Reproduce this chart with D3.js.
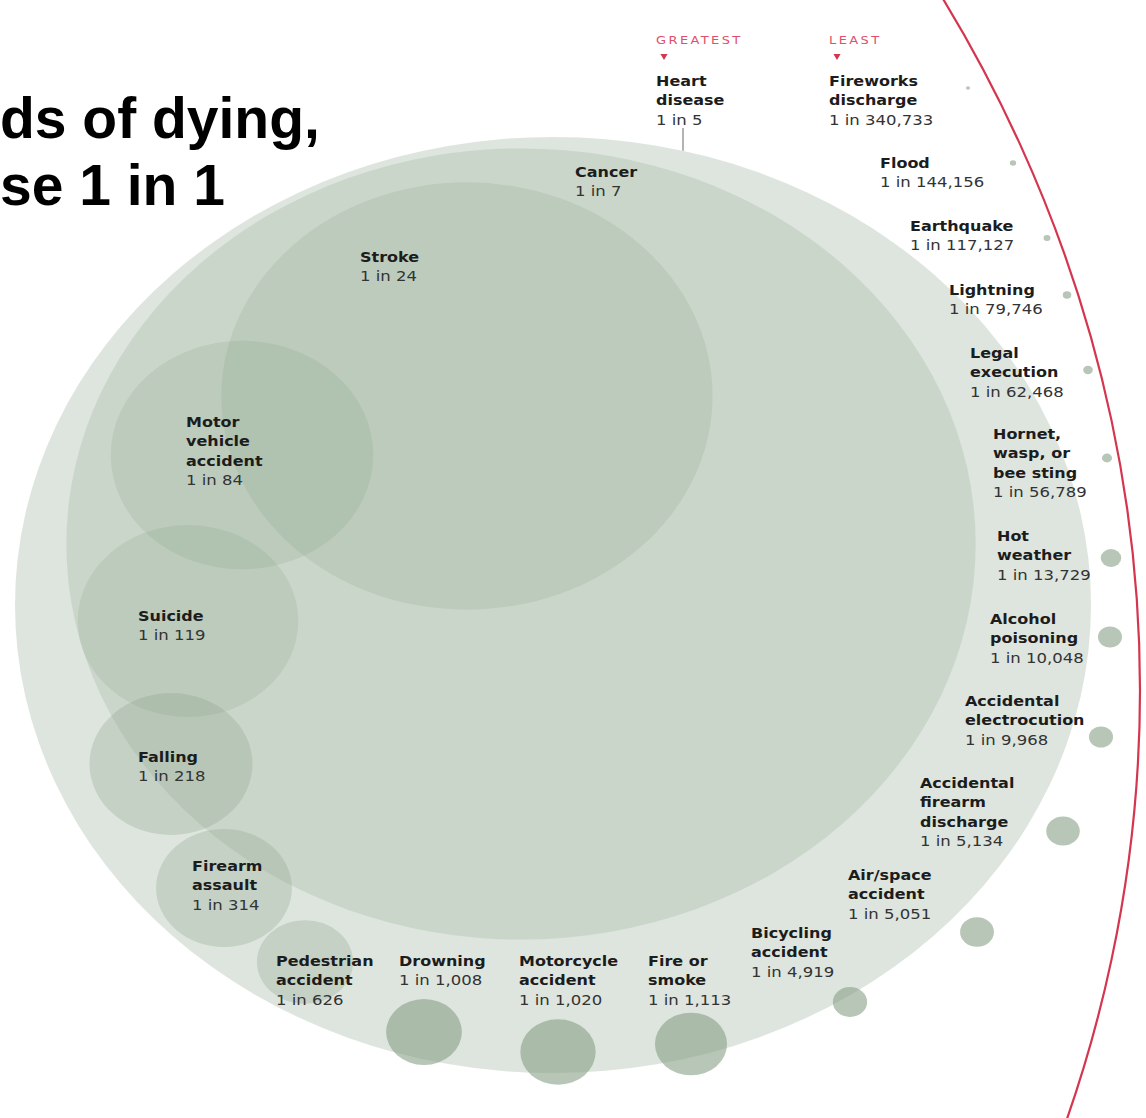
<!DOCTYPE html>
<html>
<head>
<meta charset="utf-8">
<script src="https://cdn.jsdelivr.net/npm/d3@7"></script>
<style>
  html, body { margin: 0; padding: 0; background: #ffffff; }
  svg { display: block; }
</style>
</head>
<body>
<svg id="chart" width="1146" height="1118"></svg>
<script>
// ---------------- data ----------------
const titleLines = ["ds of dying,", "se 1 in 1"];
const names = [
  "Heart|disease", "Cancer", "Stroke", "Motor|vehicle|accident", "Suicide", "Falling",
  "Firearm|assault", "Pedestrian|accident", "Drowning", "Motorcycle|accident", "Fire or|smoke",
  "Bicycling|accident", "Air/space|accident", "Accidental|firearm|discharge",
  "Accidental|electrocution", "Alcohol|poisoning", "Hot|weather", "Hornet,|wasp, or|bee sting",
  "Legal|execution", "Lightning", "Earthquake", "Flood", "Fireworks|discharge"
];
const odds = [5, 7, 24, 84, 119, 218, 314, 626, 1008, 1020, 1113, 4919, 5051, 5134,
  9968, 10048, 13729, 56789, 62468, 79746, 117127, 144156, 340733];
const rankLabels = ["GREATEST", "LEAST"];

// ---------------- layout ----------------
const W = 1146, H = 1118;
const K = 0.87; // vertical squash of the original picture
const centers = [[553,605],[521,544],[467,396],[242,455],[188,621],[171,764],[224,888],
  [305,962],[424,1032],[558,1052],[691,1044],[850,1002],[977,932],[1063,831],[1101,737],
  [1110,637],[1111,558],[1107,458],[1088,370],[1067,295],[1047,238],[1013,163],[968,88]];
const labelPos = [[656,86],[575,177],[360,262],[186,427],[138,621],[138,762],[192,871],
  [276,966],[399,966],[519,966],[648,966],[751,938],[848,880],[920,788],[965,706],
  [990,624],[997,541],[993,439],[970,358],[949,295],[910,231],[880,168],[829,86]];
const rankPos = [[656,44],[829,44]];
const redArc = { right: 1140, cy: 690, r: 1700 };

const svg = d3.select("#chart");
const r = d3.scaleSqrt().domain([0, 1/5]).range([0, 538]);

const data = names.map((n, i) => ({
  name: n, odds: odds[i], p: 1/odds[i], cx: centers[i][0], cy: centers[i][1],
  lx: labelPos[i][0], ly: labelPos[i][1]
}));

// red "1 in 1" arc
svg.append("ellipse")
  .attr("cx", redArc.right - redArc.r).attr("cy", redArc.cy)
  .attr("rx", redArc.r).attr("ry", redArc.r * K)
  .attr("fill", "none").attr("stroke", "#d4364f").attr("stroke-width", 2.2);

function opacityFor(d, i) {
  const rr = r(d.p);
  if (i === 0) return 0.28;
  if (rr > 100) return 0.22;
  if (rr > 45) return 0.3;
  return 0.62;
}

svg.append("g").selectAll("ellipse.bubble").data(data).join("ellipse")
  .attr("class", "bubble")
  .attr("cx", d => d.cx).attr("cy", d => d.cy)
  .attr("rx", d => r(d.p)).attr("ry", d => r(d.p) * K)
  .attr("fill", "#8aa389")
  .attr("fill-opacity", opacityFor);

// pointer line from heart disease label
svg.append("line")
  .attr("x1", 683).attr("x2", 683).attr("y1", 128)
  .attr("y2", data[0].cy - r(data[0].p) * K * Math.sqrt(1 - Math.pow((683 - data[0].cx) / r(data[0].p), 2)))
  .attr("stroke", "#9a9a9a").attr("stroke-width", 1.5);

// labels
const fmt = d3.format(",");
const lineH = 19.5 / K;
const labels = svg.append("g").selectAll("text.lab").data(data).join("text")
  .attr("class", "lab")
  .attr("transform", d => `translate(${d.lx},${d.ly}) scale(1,${K})`)
  .style("font-family", "'DejaVu Sans', sans-serif")
  .style("font-size", "16px");
labels.each(function(d) {
  const t = d3.select(this);
  const lines = d.name.split("|");
  lines.forEach((ln, j) => {
    t.append("tspan").attr("x", 0).attr("y", j * lineH)
      .style("font-weight", "bold").attr("fill", "#1c1c1c").text(ln);
  });
  t.append("tspan").attr("x", 0).attr("y", lines.length * lineH)
    .attr("fill", "#333").style("font-size", "16.5px").text("1 in " + fmt(d.odds));
});

// GREATEST / LEAST
rankLabels.forEach((txt, i) => {
  const [x, y] = rankPos[i];
  svg.append("text")
    .attr("transform", `translate(${x},${y}) scale(1,${K})`)
    .style("font-family", "'DejaVu Sans', sans-serif")
    .style("font-size", "13px").style("letter-spacing", "2.4px")
    .attr("fill", "#e0506a").text(txt);
  svg.append("path")
    .attr("d", d3.symbol(d3.symbolTriangle, 22)())
    .attr("transform", `translate(${x + 8},${y + 12}) rotate(180)`)
    .attr("fill", "#d4364f");
});

// title (cropped in the original)
svg.append("g").selectAll("text.title").data(titleLines).join("text")
  .attr("class", "title")
  .attr("x", 0).attr("y", (d, i) => 138 + i * 67)
  .style("font-family", "'Liberation Sans', Arial, sans-serif")
  .style("font-weight", "bold").style("font-size", "57px")
  .attr("fill", "#000").text(d => d);
</script>
</body>
</html>
